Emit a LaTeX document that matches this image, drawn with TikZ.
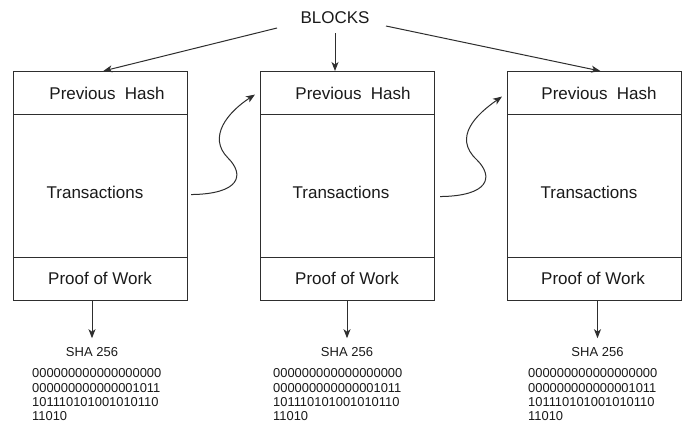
\documentclass[tikz,border=0pt]{standalone}
\usepackage{fontspec}
\setmainfont{Liberation Sans}
\usetikzlibrary{arrows.meta}
\definecolor{linec}{HTML}{2E2E2E}
\definecolor{txt}{HTML}{1A1A1A}
\begin{document}
\begin{tikzpicture}[x=1pt,y=-1pt,
  boxpart/.style={draw=linec, line width=1.1pt, inner sep=0pt, anchor=north west, minimum width=173.5pt},
  lbl/.style={font=\fontsize{17}{20}\selectfont, inner sep=0pt, text=txt},
  small/.style={font=\fontsize{13}{14.4}\selectfont, inner sep=0pt, text=txt},
  bin/.style={font=\fontsize{12.9}{14.4}\selectfont, inner sep=0pt, text=txt, align=left, anchor=north west},
  arr/.style={draw=linec, line width=1pt, -{Stealth[length=9pt,width=7pt,inset=2.5pt]}}]
\useasboundingbox (0,0) rectangle (683,423);
\fill[white] (0,0) rectangle (683,423);

\node[lbl] (blk) at (335,18) {BLOCKS};

\foreach \i/\L/\ph/\tx/\pw/\sx/\bx in {1/13/107/95/100/92/32, 2/260/353/341/347/347/273, 3/507/599/589/593/597.5/528} {
  \node[boxpart, minimum height=43pt] (ph\i) at (\L,71) {};
  \node[boxpart, minimum height=143pt] (tx\i) at (\L,114) {};
  \node[boxpart, minimum height=43pt] (pw\i) at (\L,257) {};
  \node[lbl] (phl\i) at (\ph,93) {Previous\hspace{0.55em}Hash};
  \node[lbl] (txl\i) at (\tx,192) {Transactions};
  \node[lbl] (pwl\i) at (\pw,278) {Proof of Work};
  \node[small] (sha\i) at (\sx,352) {SHA 256};
  \node[bin] (bin\i) at (\bx,368.4) {000000000000000000\\000000000000001011\\101110101001010110\\11010};
  \draw[arr, shorten >=9pt] (pw\i.south -| sha\i.north) -- (sha\i.north);
}

\coordinate (bl) at (277,28);
\coordinate (br) at (386,26);
\draw[arr] (bl) -- ([xshift=3pt]ph1.north);
\draw[arr] ([yshift=-9pt]blk.south) -- (blk.south |- ph2.north);
\draw[arr] (br) -- ([xshift=6pt]ph3.north);

\draw[arr] ([shift={(3.5,8.5)}]tx1.east) .. controls (240,194) and (245,175) .. (228,158)
   .. controls (207,137) and (228,112) .. ([shift={(-5,1.5)}]ph2.west);
\draw[arr] ([shift={(5.5,10.5)}]tx2.east) .. controls (489,196) and (494,177) .. (477,160)
   .. controls (452,137) and (477,114) .. ([shift={(-5,3.5)}]ph3.west);
\end{tikzpicture}
\end{document}
